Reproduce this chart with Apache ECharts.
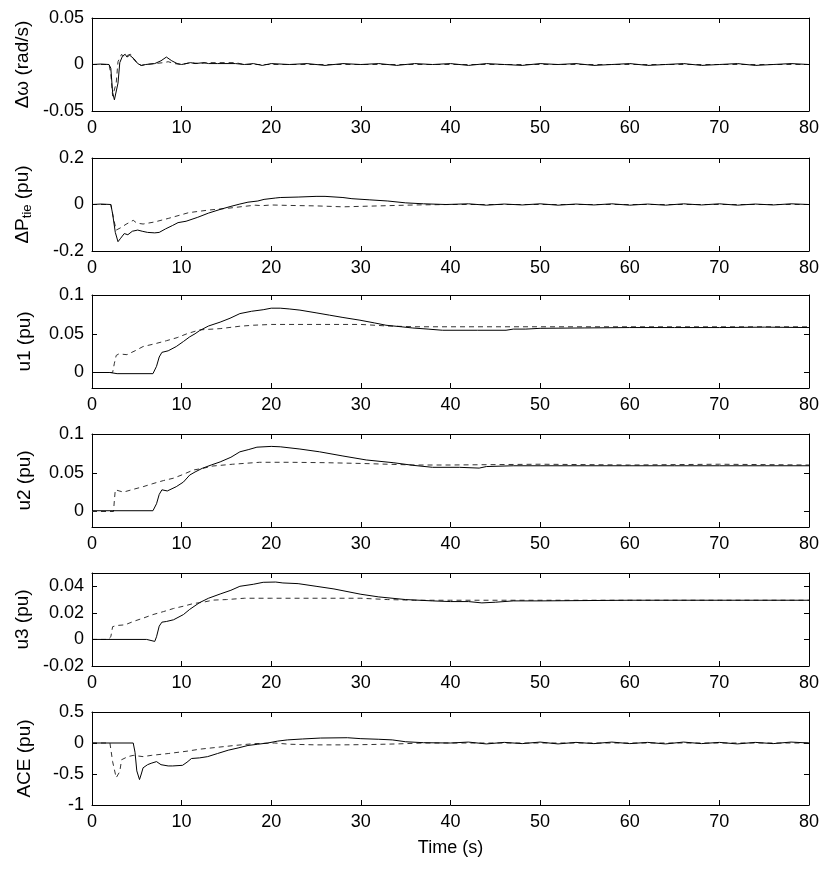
<!DOCTYPE html>
<html>
<head>
<meta charset="utf-8">
<script src="https://cdn.jsdelivr.net/npm/echarts@6/dist/echarts.min.js"></script>
<style>
html,body{margin:0;padding:0;background:#fff;}
#chart{width:822px;height:870px;}
</style>
</head>
<body>
<div id="chart"></div>
<script>
// ---------- DATA ----------
const xTicks = [0, 10, 20, 30, 40, 50, 60, 70, 80];

const dwSolid = [[0,0],[1,0.0005],[1.9,0],[2.1,-0.004],[2.3,-0.03],[2.5,-0.038],[2.7,-0.036],[2.9,-0.02],[3.1,0.002],[3.4,0.009],[3.7,0.011],[3.9,0.008],[4.2,0.010],[4.4,0.012],[4.7,0.006],[5.1,0.001],[5.5,-0.001],[6,0],[7,0.001],[7.7,0.004],[8.3,0.008],[8.9,0.004],[9.5,0.001],[10,0],[11,0.002],[11.5,0.001],[12.5,0.002],[13,0.001],[14,0.001],[16,0.001],[17,0],[18,0.001],[19,-0.001],[20,0.001],[22,0],[24,0.001],[26,-0.001],[28,0.001],[30,0],[32,0.001],[34,-0.001],[36,0.001],[38,0],[40,0.001],[42,-0.001],[44,0.001],[46,0],[48,-0.001],[50,0.001],[52,0],[54,0.001],[56,-0.001],[58,0],[60,0.001],[62,-0.001],[64,0],[66,0.001],[68,-0.001],[70,0],[72,0.001],[74,-0.001],[76,0],[78,0.001],[80,0]];
const dwDashed = [[0,0],[1.9,0],[2.1,-0.01],[2.3,-0.034],[2.5,-0.033],[2.7,-0.02],[2.9,0.003],[3.3,0.011],[3.6,0.008],[4.0,0.010],[4.3,0.011],[4.6,0.006],[5.1,0.001],[5.5,-0.001],[6,0],[7,0.001],[8,0.002],[8.5,0.003],[9.2,0.001],[10,0],[11,0.002],[12,0.001],[13,0.002],[16,0.002],[17,0],[20,0],[40,0],[80,0]];

const ptSolid = [[0,0],[1,0.002],[2.1,0],[2.3,-0.04],[2.6,-0.12],[2.9,-0.16],[3.2,-0.145],[3.6,-0.125],[4.0,-0.13],[4.5,-0.115],[5.1,-0.11],[5.6,-0.115],[6.2,-0.12],[7.0,-0.122],[7.5,-0.12],[8.2,-0.105],[9.0,-0.09],[9.6,-0.078],[10.5,-0.072],[11.8,-0.055],[13,-0.037],[14.4,-0.02],[15.5,-0.008],[16.5,0.002],[17.4,0.01],[18.5,0.015],[19.2,0.022],[20.5,0.028],[21,0.03],[23,0.032],[25,0.035],[26,0.035],[28,0.03],[29,0.025],[31,0.02],[33,0.015],[35,0.007],[37,0.003],[39.5,0],[42,0.003],[44,-0.003],[46,0.002],[48,-0.002],[50,0.003],[52,-0.003],[54,0.002],[56,-0.002],[58,0.003],[60,-0.003],[62,0.002],[64,-0.003],[66,0.003],[68,-0.002],[70,0.003],[72,-0.003],[74,0.002],[76,-0.002],[78,0.003],[80,0]];
const ptDashed = [[0,0],[2.1,0],[2.4,-0.06],[2.7,-0.11],[3.2,-0.1],[3.8,-0.085],[4.6,-0.068],[5.0,-0.08],[5.7,-0.084],[7,-0.075],[8.5,-0.06],[10.8,-0.035],[13,-0.024],[15.2,-0.016],[17,-0.008],[18.2,-0.003],[19,-0.005],[20,-0.002],[22,-0.004],[25,-0.006],[28,-0.01],[30,-0.008],[33,-0.005],[36,-0.002],[40,0],[80,0]];

const u1Solid = [[0,0],[2,0],[2.8,-0.0015],[6.8,-0.0015],[7.2,0.008],[7.5,0.02],[7.8,0.026],[8.5,0.028],[9.4,0.0335],[10.2,0.04],[10.9,0.046],[11.5,0.05],[12,0.054],[13,0.06],[14.3,0.065],[15.4,0.07],[16.5,0.076],[17.8,0.079],[19.1,0.081],[20,0.083],[21,0.083],[22,0.082],[23.2,0.0805],[25,0.077],[26.5,0.074],[28,0.071],[29.9,0.0675],[31.5,0.064],[32.8,0.061],[34.5,0.059],[35.8,0.0574],[37.5,0.056],[39.1,0.0545],[43,0.0545],[46.2,0.0545],[47,0.056],[48.4,0.056],[50,0.057],[55,0.0575],[60,0.058],[65,0.058],[70,0.058],[75,0.0585],[80,0.058]];
const u1Dashed = [[0,0],[2.3,0],[2.5,0.012],[2.7,0.022],[3,0.024],[3.9,0.023],[4.8,0.028],[5.7,0.0335],[7,0.037],[8.3,0.041],[9.5,0.045],[10.6,0.05],[12,0.055],[14.3,0.0566],[16.5,0.0597],[18,0.061],[20,0.062],[25,0.062],[30,0.062],[33,0.06],[36,0.059],[40,0.059],[50,0.059],[60,0.059],[70,0.059],[80,0.059]];

const u2Solid = [[0,0.001],[6.8,0.001],[7.2,0.01],[7.5,0.022],[7.8,0.028],[8.4,0.0265],[9.4,0.032],[10.2,0.038],[10.9,0.047],[11.5,0.051],[12.3,0.0557],[13.3,0.06],[14.3,0.064],[15.5,0.07],[16.5,0.077],[17.5,0.08],[18.4,0.083],[20,0.084],[21,0.0835],[23.2,0.0806],[25.4,0.077],[28,0.0716],[30.6,0.0665],[33.6,0.063],[35.8,0.0596],[38,0.057],[41,0.057],[43.2,0.056],[44,0.058],[47,0.059],[50,0.059],[55,0.059],[60,0.059],[65,0.059],[70,0.059],[75,0.059],[80,0.059]];
const u2Dashed = [[0,0],[2.4,0],[2.5,0.015],[2.6,0.028],[3.5,0.025],[4.6,0.0286],[5.7,0.032],[6.8,0.036],[8,0.04],[9.1,0.043],[10.2,0.048],[11.3,0.0535],[12.5,0.056],[13.5,0.0587],[15.7,0.061],[18.7,0.0635],[22,0.0635],[26,0.063],[30,0.062],[33,0.061],[36,0.06],[40,0.06],[50,0.061],[60,0.06],[70,0.061],[80,0.06]];

const u3Solid = [[0,0],[6.1,0],[6.3,-0.0015],[7,-0.0015],[7.2,0.002],[7.5,0.01],[7.8,0.013],[8.3,0.0135],[9.1,0.0148],[10.2,0.0187],[10.9,0.0226],[12,0.0277],[13,0.031],[14.3,0.0342],[15.5,0.037],[16.5,0.040],[18,0.0415],[19.1,0.043],[20.5,0.0432],[21.3,0.0425],[23,0.042],[25,0.04],[27,0.038],[30,0.034],[32,0.032],[35,0.030],[38,0.029],[40,0.0285],[42,0.0285],[43.5,0.0275],[45,0.028],[47,0.029],[50,0.029],[60,0.0295],[70,0.0295],[80,0.0295]];
const u3Dashed = [[0,0],[1.8,0],[2.1,0.002],[2.3,0.0096],[2.8,0.0105],[3.7,0.011],[4.6,0.0135],[5.7,0.016],[6.8,0.0187],[8,0.021],[9.1,0.0233],[10.2,0.025],[11.3,0.027],[12.4,0.028],[13.5,0.0296],[15,0.030],[17,0.031],[20,0.031],[25,0.031],[30,0.031],[33,0.03],[36,0.0295],[40,0.0295],[80,0.0295]];

const aceSolid = [[0,0],[4.6,0],[4.8,-0.15],[5.0,-0.45],[5.3,-0.59],[5.5,-0.5],[5.7,-0.4],[6.2,-0.35],[6.6,-0.327],[7.2,-0.30],[7.7,-0.35],[8.5,-0.37],[9,-0.37],[10.1,-0.36],[10.6,-0.31],[11.1,-0.25],[12,-0.24],[12.9,-0.22],[14,-0.17],[15.2,-0.116],[16.3,-0.08],[17.4,-0.04],[18.5,-0.02],[19.6,0],[20.7,0.03],[21.8,0.05],[23.5,0.065],[25.5,0.08],[28.5,0.085],[30,0.07],[32,0.06],[33.5,0.05],[35,0.02],[37,0.005],[40,0],[42,0.015],[44,-0.015],[46,0.01],[48,-0.01],[50,0.015],[52,-0.015],[54,0.01],[56,-0.01],[58,0.015],[60,-0.01],[62,0.01],[64,-0.015],[66,0.015],[68,-0.01],[70,0.01],[72,-0.015],[74,0.01],[76,-0.01],[78,0.015],[80,0]];
const aceDashed = [[0,0],[2.0,0],[2.3,-0.3],[2.7,-0.56],[3.1,-0.46],[3.3,-0.27],[4,-0.22],[4.6,-0.2],[5.7,-0.22],[6.6,-0.2],[8.5,-0.17],[10.7,-0.13],[12,-0.1],[13.7,-0.074],[15.9,-0.04],[18.1,-0.01],[20.4,0],[22,-0.02],[25,-0.03],[28,-0.03],[31,-0.025],[34,-0.015],[37,0],[80,0]];

const panelNames = ['Δω (rad/s)', '{a|ΔP}{s|tie}{a| (pu)}', 'u1 (pu)', 'u2 (pu)', 'u3 (pu)', 'ACE (pu)'];
const yMins = [-0.05, -0.2, -0.02, -0.02, -0.02, -1];
const yMaxs = [0.05, 0.2, 0.1, 0.1, 0.05, 0.5];
const yTicks = [[-0.05,0,0.05],[-0.2,0,0.2],[0,0.05,0.1],[0,0.05,0.1],[-0.02,0,0.02,0.04],[-1,-0.5,0,0.5]];
const solidSeries = [dwSolid, ptSolid, u1Solid, u2Solid, u3Solid, aceSolid];
const dashedSeries = [dwDashed, ptDashed, u1Dashed, u2Dashed, u3Dashed, aceDashed];
const xName = 'Time (s)';

// ---------- LAYOUT ----------
const gridTops = [18, 158, 295, 434, 573, 712];
const gridH = 93;
const font = "'Liberation Sans', Arial, Helvetica, sans-serif";
const black = '#000';
const tickFont = 18, nameFont = 19;

const grids = [], xAxes = [], yAxes = [], series = [];
for (let i = 0; i < 6; i++) {
  grids.push({left: 92, width: 718, top: gridTops[i], height: gridH, containLabel: false});
  const lineS = {show: true, onZero: false, lineStyle: {color: black, width: 1}};
  const tickS = {show: true, inside: true, length: 5, lineStyle: {color: black, width: 1}};
  xAxes.push({
    gridIndex: i, type: 'value', min: 0, max: 80, interval: 10, position: 'bottom',
    axisLine: lineS, axisTick: tickS, splitLine: {show: false},
    axisLabel: {color: black, fontSize: tickFont, fontFamily: font, margin: 8},
    name: i === 5 ? xName : '', nameLocation: 'middle', nameGap: 34,
    nameTextStyle: {color: black, fontSize: tickFont, fontFamily: font}
  });
  xAxes.push({
    gridIndex: i, type: 'value', min: 0, max: 80, interval: 10, position: 'top',
    axisLine: lineS, axisTick: tickS, splitLine: {show: false}, axisLabel: {show: false}
  });
  yAxes.push({
    gridIndex: i, type: 'value', min: yMins[i], max: yMaxs[i], position: 'left',
    axisLine: lineS,
    axisTick: Object.assign({}, tickS, {customValues: yTicks[i]}),
    splitLine: {show: false},
    axisLabel: {customValues: yTicks[i], color: black, fontSize: tickFont, fontFamily: font, margin: 8},
    name: panelNames[i], nameLocation: 'middle', nameGap: 58, nameRotate: 90,
    nameTextStyle: {color: black, fontSize: nameFont, fontFamily: font,
      rich: {a: {fontSize: nameFont, fontFamily: font, color: black, lineHeight: 22},
             s: {fontSize: 13, fontFamily: font, color: black, lineHeight: 22, verticalAlign: 'bottom', padding: [7, 0, 0, 0]}}}
  });
  yAxes.push({
    gridIndex: i, type: 'value', min: yMins[i], max: yMaxs[i], position: 'right',
    axisLine: lineS,
    axisTick: Object.assign({}, tickS, {customValues: yTicks[i]}),
    splitLine: {show: false}, axisLabel: {show: false}
  });
  series.push({
    type: 'line', xAxisIndex: 2 * i, yAxisIndex: 2 * i, data: dashedSeries[i],
    symbol: 'none', clip: true, z: 2,
    lineStyle: {color: '#333', width: 1, type: [5, 4]}
  });
  series.push({
    type: 'line', xAxisIndex: 2 * i, yAxisIndex: 2 * i, data: solidSeries[i],
    symbol: 'none', clip: true, z: 3,
    lineStyle: {color: black, width: 1}
  });
}

const chart = echarts.init(document.getElementById('chart'), null, {renderer: 'canvas'});
chart.setOption({
  animation: false,
  backgroundColor: '#fff',
  grid: grids, xAxis: xAxes, yAxis: yAxes, series: series
});
</script>
</body>
</html>
